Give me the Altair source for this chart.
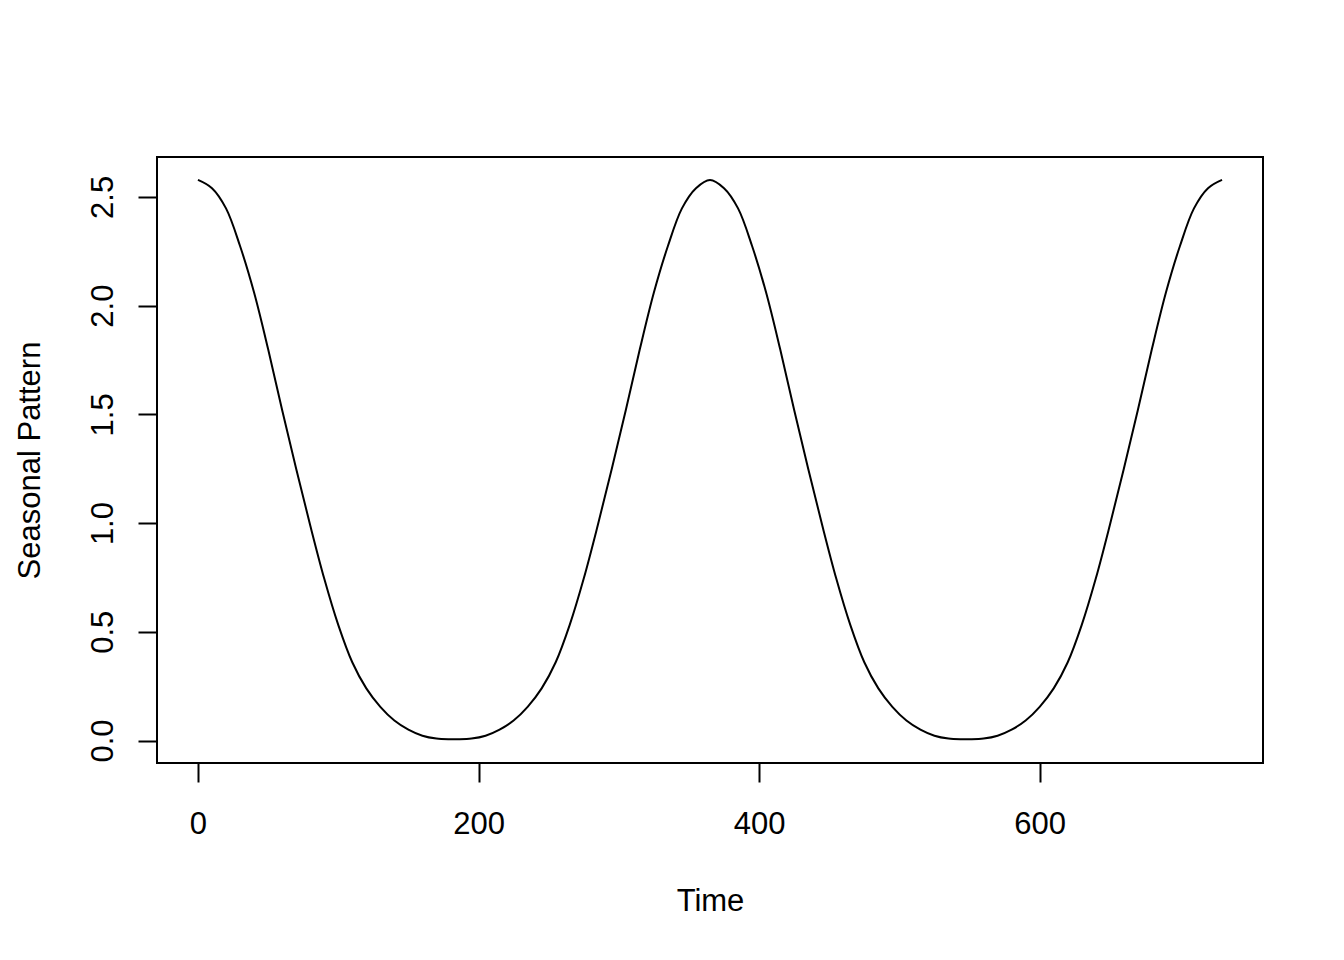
import altair as alt
import pandas as pd

# Day index (time) and seasonal pattern values
time = [0, 10, 20, 30, 40, 50, 60, 70, 80, 90, 100, 110, 120, 130, 140, 150, 160, 170, 180,
        185, 195, 205, 215, 225, 235, 245, 255, 265, 275, 285, 295, 305, 315, 325, 335, 345, 355, 365,
        375, 385, 395, 405, 415, 425, 435, 445, 455, 465, 475, 485, 495, 505, 515, 525, 535, 545,
        550, 560, 570, 580, 590, 600, 610, 620, 630, 640, 650, 660, 670, 680, 690, 700, 710, 720, 730]

seasonal = [2.578, 2.54, 2.447, 2.274, 2.06, 1.80, 1.52, 1.25, 0.99, 0.745, 0.532, 0.36, 0.24, 0.155, 0.092, 0.05, 0.022, 0.009, 0.006,
            0.006, 0.009, 0.022, 0.05, 0.092, 0.155, 0.24, 0.36, 0.532, 0.745, 0.99, 1.25, 1.52, 1.80, 2.06, 2.274, 2.447, 2.54, 2.578,
            2.54, 2.447, 2.274, 2.06, 1.80, 1.52, 1.25, 0.99, 0.745, 0.532, 0.36, 0.24, 0.155, 0.092, 0.05, 0.022, 0.009, 0.006,
            0.006, 0.009, 0.022, 0.05, 0.092, 0.155, 0.24, 0.36, 0.532, 0.745, 0.99, 1.25, 1.52, 1.80, 2.06, 2.274, 2.447, 2.54, 2.578]

x_ticks = [0, 200, 400, 600]
y_ticks = [0.0, 0.5, 1.0, 1.5, 2.0, 2.5]

df = pd.DataFrame({"Time": time, "Seasonal": seasonal})

FONT = "Liberation Sans"
FS = 31

chart = alt.Chart(df).mark_line(
    color="black", strokeWidth=2, interpolate="catmull-rom", clip=True
).encode(
    x=alt.X(
        "Time:Q",
        scale=alt.Scale(domain=[-29.2, 759.2], nice=False, zero=False),
        axis=alt.Axis(
            values=x_ticks, title="Time", grid=False, domain=False,
            tickSize=19, tickWidth=2, tickColor="black",
            labelFont=FONT, labelFontSize=FS, labelColor="black",
            labelBaseline="alphabetic", labelPadding=51,
            titleFont=FONT, titleFontSize=FS, titleColor="black", titleFontWeight="normal",
            titleBaseline="alphabetic", titleAnchor="middle", titleX=553, titleY=147,
        ),
    ),
    y=alt.Y(
        "Seasonal:Q",
        scale=alt.Scale(domain=[-0.1032, 2.6832], nice=False, zero=False),
        axis=alt.Axis(
            values=y_ticks, format=".1f", title="Seasonal Pattern", grid=False, domain=False,
            tickSize=19, tickWidth=2, tickColor="black",
            labelFont=FONT, labelFontSize=FS, labelColor="black",
            labelAngle=270, labelAlign="center", labelBaseline="alphabetic", labelPadding=26,
            titleFont=FONT, titleFontSize=FS, titleColor="black", titleFontWeight="normal",
            titleAngle=270, titleAlign="center", titleBaseline="alphabetic",
            titleX=-118, titleY=303,
        ),
    ),
).properties(
    width=1106,
    height=606,
    autosize=alt.AutoSizeParams(type="none"),
    padding={"left": 149, "top": 149, "right": 73, "bottom": 180},
    background="white",
).configure_view(
    stroke="black", strokeWidth=2
)

chart.save("out.html", embed_options={"renderer": "svg", "actions": False})
